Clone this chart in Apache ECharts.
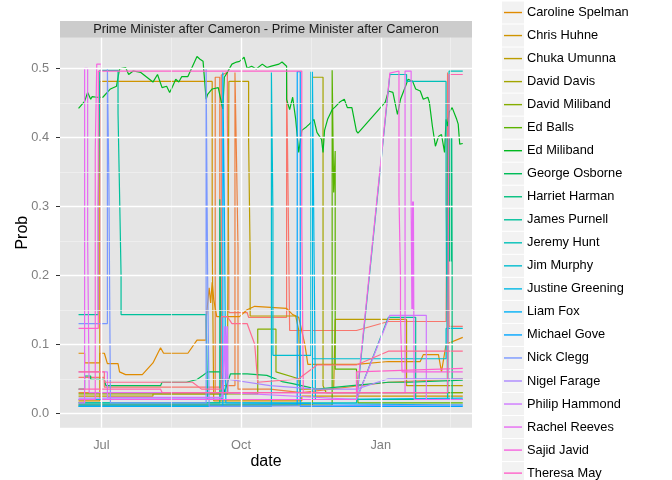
<!DOCTYPE html>
<html>
<head>
<meta charset="utf-8">
<script src="https://cdn.jsdelivr.net/npm/echarts@6/dist/echarts.min.js"></script>
<style>
  html, body { margin: 0; padding: 0; background: #fff; }
  #main { width: 672px; height: 480px; }
</style>
</head>
<body>
<div id="main"></div>
<script>
// 人名 (ggplot 的顺序, 颜色按顺序取)
var names = ['Andy Burnham', 'Boris Johnson', 'Caroline Spelman', 'Chris Huhne', 'Chuka Umunna',
  'David Davis', 'David Miliband', 'Ed Balls', 'Ed Miliband', 'George Osborne', 'Harriet Harman',
  'James Purnell', 'Jeremy Hunt', 'Jim Murphy', 'Justine Greening', 'Liam Fox', 'Michael Gove',
  'Nick Clegg', 'Nigel Farage', 'Philip Hammond', 'Rachel Reeves', 'Sajid Javid', 'Theresa May',
  'Vince Cable', 'Yvette Cooper'];

// 图例里能看到的部分
var legendNames = names.slice(2, 23);

// 刻度
var xTicks = ['2014-07-01', '2014-10-01', '2015-01-01'];
var xMinor = ['2014-08-16', '2014-11-16', '2015-02-15 12:00'];
var yTicks = [0, 0.1, 0.2, 0.3, 0.4, 0.5];
var yMinor = [0.05, 0.15, 0.25, 0.35, 0.45];

var andyBurnham = [['2014-06-16',0.052],['2014-07-03',0.052],['2014-07-03',0.038],['2014-09-18',0.038],['2014-09-18',0.49],['2014-09-22',0.494],['2014-09-22',0.43],['2014-09-23',0.2],['2014-09-23',0.146],['2014-10-05',0.146],['2014-10-06',0.139],['2014-10-31',0.139],['2014-10-31',0.494],['2014-11-01',0.494],['2014-11-01',0.315],['2014-11-02',0.12],['2014-12-16',0.12],['2015-01-06',0.133],['2015-02-13',0.133],['2015-02-14',0.494],['2015-02-15',0.494],['2015-02-15',0.126],['2015-02-24',0.126]];
var borisJohnson = [['2014-06-16',0.03],['2014-09-14',0.03],['2014-09-14',0.487],['2014-09-17',0.487],['2014-09-17',0.25],['2014-09-18',0.04],['2014-09-27',0.04],['2014-09-27',0.494],['2014-09-28',0.494],['2014-09-28',0.37],['2014-09-29',0.24],['2014-09-29',0.035],['2014-10-20',0.035],['2014-11-10',0.03],['2015-01-06',0.045],['2015-02-24',0.05]];
var carolineSpelman = [['2014-06-16',0.087],['2014-06-20',0.087],['2014-06-20',0.073],['2014-06-30',0.073],['2014-06-30',0.087],['2014-07-03',0.087],['2014-07-05',0.072],['2014-07-12',0.072],['2014-07-13',0.06],['2014-07-17',0.056],['2014-07-28',0.056],['2014-08-04',0.073],['2014-08-09',0.095],['2014-08-11',0.087],['2014-08-27',0.087],['2014-09-02',0.106],['2014-09-08',0.106],['2014-09-08',0.136],['2014-09-10',0.182],['2014-09-11',0.16],['2014-09-12',0.19],['2014-09-13',0.165],['2014-09-15',0.14],['2014-09-30',0.14],['2014-10-05',0.15],['2014-10-10',0.155],['2014-10-31',0.152],['2014-11-04',0.143],['2014-11-08',0.139],['2014-11-12',0.10],['2014-11-14',0.071],['2014-12-16',0.071],['2015-01-06',0.075],['2015-01-27',0.075],['2015-01-29',0.085],['2015-02-08',0.085],['2015-02-10',0.06],['2015-02-13',0.10],['2015-02-24',0.11]];
var chrisHuhne = [['2014-06-16',0.018],['2014-06-30',0.018],['2014-06-30',0.481],['2014-09-12',0.481],['2014-09-12',0.25],['2014-09-13',0.018],['2014-11-10',0.018],['2014-11-10',0.025],['2015-02-24',0.025]];
var chukaUmunna = [['2014-06-16',0.025],['2014-08-04',0.025],['2014-08-04',0.028],['2014-09-22',0.028],['2014-09-23',0.481],['2014-10-06',0.481],['2014-10-06',0.394],['2014-10-07',0.228],['2014-10-07',0.141],['2014-11-06',0.141],['2014-11-08',0.12],['2014-11-09',0.035],['2014-12-01',0.035],['2014-12-02',0.136],['2015-01-18',0.136],['2015-01-18',0.04],['2015-02-24',0.04]];
var davidDavis = [['2014-06-16',0.012],['2014-11-17',0.012],['2014-11-17',0.487],['2014-11-24',0.487],['2014-11-24',0.04],['2014-11-26',0.03],['2015-02-24',0.03]];
var davidMiliband = [['2014-06-16',0.028],['2014-10-12',0.028],['2014-10-12',0.122],['2014-10-24',0.122],['2014-10-24',0.06],['2014-11-08',0.05],['2014-11-09',0.03],['2015-02-24',0.03]];
var edBalls = [['2014-06-16',0.012],['2014-11-30',0.012],['2014-11-30',0.497],['2014-12-01',0.497],['2014-12-01',0.32],['2014-12-02',0.38],['2014-12-02',0.064],['2014-12-16',0.064],['2014-12-17',0.015],['2015-02-24',0.015]];
var edMiliband = [['2014-06-16',0.442],['2014-06-20',0.452],['2014-06-22',0.465],['2014-06-24',0.455],['2014-06-25',0.459],['2014-06-28',0.458],['2014-07-02',0.458],['2014-07-07',0.470],['2014-07-11',0.474],['2014-07-13',0.499],['2014-07-17',0.501],['2014-07-19',0.491],['2014-07-22',0.496],['2014-07-27',0.494],['2014-07-31',0.487],['2014-08-04',0.480],['2014-08-07',0.491],['2014-08-10',0.472],['2014-08-13',0.474],['2014-08-15',0.465],['2014-08-17',0.474],['2014-08-19',0.484],['2014-08-21',0.480],['2014-08-23',0.488],['2014-08-27',0.488],['2014-09-02',0.517],['2014-09-04',0.513],['2014-09-06',0.510],['2014-09-08',0.455],['2014-09-09',0.462],['2014-09-12',0.470],['2014-09-16',0.472],['2014-09-18',0.451],['2014-09-19',0.441],['2014-09-20',0.487],['2014-09-22',0.494],['2014-09-25',0.506],['2014-09-28',0.509],['2014-09-30',0.510],['2014-10-03',0.516],['2014-10-05',0.500],['2014-10-08',0.503],['2014-10-11',0.499],['2014-10-15',0.506],['2014-10-18',0.501],['2014-10-21',0.503],['2014-10-26',0.506],['2014-10-28',0.509],['2014-10-31',0.503],['2014-10-31',0.455],['2014-11-02',0.440],['2014-11-04',0.458],['2014-11-06',0.426],['2014-11-08',0.378],['2014-11-10',0.410],['2014-11-13',0.415],['2014-11-15',0.419],['2014-11-18',0.426],['2014-11-20',0.407],['2014-11-23',0.397],['2014-11-24',0.378],['2014-11-25',0.410],['2014-11-27',0.426],['2014-11-30',0.440],['2014-12-02',0.444],['2014-12-05',0.451],['2014-12-08',0.455],['2014-12-10',0.443],['2014-12-13',0.443],['2014-12-16',0.409],['2014-12-17',0.406],['2015-01-04',0.451],['2015-01-06',0.467],['2015-01-09',0.465],['2015-01-12',0.433],['2015-01-14',0.455],['2015-01-17',0.472],['2015-01-19',0.484],['2015-01-22',0.481],['2015-01-24',0.470],['2015-01-27',0.467],['2015-01-29',0.455],['2015-02-01',0.458],['2015-02-02',0.451],['2015-02-04',0.416],['2015-02-06',0.387],['2015-02-08',0.401],['2015-02-10',0.404],['2015-02-12',0.378],['2015-02-13',0.426],['2015-02-14',0.416],['2015-02-15',0.436],['2015-02-17',0.443],['2015-02-20',0.426],['2015-02-21',0.419],['2015-02-22',0.390],['2015-02-24',0.391]];
var georgeOsborne = [['2014-06-16',0.035],['2014-06-20',0.035],['2014-06-20',0.054],['2014-06-24',0.054],['2014-06-24',0.049],['2014-07-03',0.049],['2014-07-04',0.040],['2014-08-09',0.040],['2014-08-10',0.045],['2014-08-26',0.045],['2014-09-02',0.049],['2014-09-06',0.055],['2014-09-09',0.06],['2014-09-18',0.06],['2014-09-20',0.03],['2014-09-24',0.057],['2014-10-05',0.057],['2014-10-18',0.055],['2014-10-28',0.046],['2014-11-04',0.043],['2014-11-20',0.035],['2014-12-13',0.04],['2015-01-06',0.045],['2015-01-20',0.045],['2015-02-24',0.048]];
var harrietHarman = [['2014-06-16',0.015],['2014-09-17',0.015],['2014-09-17',0.31],['2014-09-18',0.31],['2014-09-18',0.02],['2015-02-14',0.02],['2015-02-14 06:00',0.40],['2015-02-14 12:00',0.22],['2015-02-14 18:00',0.40],['2015-02-15',0.22],['2015-02-15 06:00',0.40],['2015-02-15 12:00',0.22],['2015-02-15 18:00',0.40],['2015-02-16',0.22],['2015-02-16 06:00',0.40],['2015-02-16 12:00',0.22],['2015-02-16 18:00',0.40],['2015-02-17',0.22],['2015-02-17',0.02],['2015-02-24',0.02]];
var jamesPurnell = [['2014-06-16',0.143],['2014-06-29',0.143],['2014-06-29',0.30],['2014-06-30',0.497],['2014-07-12',0.497],['2014-07-12',0.435],['2014-07-13',0.32],['2014-07-14',0.2],['2014-07-14',0.143],['2014-09-08',0.143],['2014-09-09',0.02],['2014-12-16',0.02],['2015-01-06',0.139],['2015-01-24',0.139],['2015-01-24',0.02],['2015-02-24',0.02]];
var jeremyHunt = [['2014-06-16',0.015],['2014-12-16',0.015],['2015-01-07',0.491],['2015-01-18',0.491],['2015-01-18',0.481],['2015-02-13',0.481],['2015-02-13',0.306],['2015-02-14',0.02],['2015-02-15',0.02],['2015-02-15',0.496],['2015-02-24',0.496]];
var jimMurphy = [['2014-06-16',0.01],['2014-10-21',0.01],['2014-10-21',0.494],['2014-10-22',0.288],['2014-10-22',0.084],['2014-11-16',0.084],['2014-11-16',0.495],['2014-11-17',0.495],['2014-11-17',0.079],['2015-02-13',0.079],['2015-02-13',0.123],['2015-02-24',0.123]];
var justineGreening = [['2014-06-16',0.02],['2014-11-17',0.02],['2014-11-17',0.495],['2014-11-18',0.495],['2014-11-18',0.252],['2014-11-19',0.02],['2015-02-24',0.022]];
var liamFox = [['2014-06-16',0.01],['2014-09-19',0.01],['2014-09-19',0.494],['2014-09-20',0.494],['2014-09-20',0.3],['2014-09-21',0.015],['2015-02-24',0.012]];
var michaelGove = [['2014-06-16',0.012],['2014-11-07',0.012],['2014-11-07',0.495],['2014-11-09',0.495],['2014-11-09',0.01],['2015-02-24',0.01]];
var nickClegg = [['2014-06-16',0.13],['2014-07-05',0.13],['2014-07-05',0.5],['2014-07-06',0.5],['2014-07-06',0.33],['2014-07-07',0.015],['2014-09-08',0.015],['2014-09-08',0.5],['2014-09-09',0.5],['2014-09-09',0.2],['2014-09-10',0.01],['2015-02-24',0.012]];
var nigelFarage = [['2014-06-16',0.022],['2014-09-18',0.022],['2014-09-20',0.05],['2014-10-20',0.04],['2014-11-20',0.035],['2014-12-16',0.035],['2015-01-06',0.05],['2015-02-24',0.05]];
var philipHammond = [['2014-06-16',0.06],['2014-07-05',0.06],['2014-07-05',0.023],['2014-09-19',0.023],['2014-09-20',0.126],['2014-09-20 12:00',0.05],['2014-09-21',0.126],['2014-09-21 12:00',0.05],['2014-09-22',0.126],['2014-09-22 12:00',0.03],['2014-12-16',0.02],['2015-01-07',0.142],['2015-01-31',0.142],['2015-01-31',0.02],['2015-02-24',0.02]];
var rachelReeves = [['2014-06-16',0.015],['2014-06-20',0.015],['2014-06-20',0.5],['2014-06-22',0.5],['2014-06-22',0.25],['2014-06-23',0.03],['2015-01-17',0.03],['2015-01-17',0.496],['2015-01-21',0.496],['2015-01-21',0.307],['2015-01-21 12:00',0.151],['2015-01-22',0.307],['2015-01-22 06:00',0.151],['2015-01-22 12:00',0.307],['2015-01-22 18:00',0.151],['2015-01-23',0.02],['2015-02-24',0.02]];
var sajidJavid = [['2014-06-16',0.02],['2014-06-27',0.02],['2014-06-27',0.38],['2014-06-28',0.506],['2014-07-01',0.506],['2014-07-01',0.02],['2014-12-16',0.02],['2015-01-07',0.493],['2015-01-13',0.496],['2015-01-13',0.315],['2015-01-14',0.194],['2015-01-14',0.136],['2015-01-15',0.06],['2015-02-24',0.06]];
var theresaMay = [['2014-06-16',0.123],['2014-06-29',0.123],['2014-06-29',0.496],['2014-11-10',0.496],['2014-11-10',0.28],['2014-11-11',0.03],['2014-12-16',0.03],['2014-12-16',0.06],['2015-02-24',0.065]];
var vinceCable = [['2014-06-16',0.035],['2014-08-09',0.035],['2014-08-10',0.03],['2015-02-14',0.03],['2015-02-15',0.491],['2015-02-24',0.491]];
var yvetteCooper = [['2014-06-16',0.06],['2014-07-03',0.06],['2014-07-03',0.045],['2014-08-30',0.045],['2014-09-05',0.035],['2014-09-18',0.035],['2014-09-18',0.14],['2014-09-22',0.14],['2014-09-25',0.13],['2014-10-05',0.13],['2014-10-10',0.1],['2014-10-12',0.045],['2014-11-08',0.05],['2014-11-20',0.07],['2014-12-16',0.07],['2015-01-06',0.09],['2015-02-24',0.09]];

var values = [andyBurnham, borisJohnson, carolineSpelman, chrisHuhne, chukaUmunna, davidDavis,
  davidMiliband, edBalls, edMiliband, georgeOsborne, harrietHarman, jamesPurnell, jeremyHunt,
  jimMurphy, justineGreening, liamFox, michaelGove, nickClegg, nigelFarage, philipHammond,
  rachelReeves, sajidJavid, theresaMay, vinceCable, yvetteCooper];

// ggplot 默认色盘 hcl(h, 100, 65)
function hcl(h, c, l) {
    var hr = h * Math.PI / 180;
    var U = c * Math.cos(hr), V = c * Math.sin(hr);
    var Xn = 95.047, Yn = 100, Zn = 108.883;
    var Y = l > 8 ? Yn * Math.pow((l + 16) / 116, 3) : Yn * l / 903.3;
    var un = 4 * Xn / (Xn + 15 * Yn + 3 * Zn), vn = 9 * Yn / (Xn + 15 * Yn + 3 * Zn);
    var u = U / (13 * l) + un, v = V / (13 * l) + vn;
    var X = 9 * Y * u / (4 * v);
    var Z = 3 * Y / v - X / 3 - 5 * Y;
    X /= 100; Y /= 100; Z /= 100;
    var rgb = [
        3.2404542 * X - 1.5371385 * Y - 0.4985314 * Z,
        -0.9692660 * X + 1.8760108 * Y + 0.0415560 * Z,
        0.0556434 * X - 0.2040259 * Y + 1.0572252 * Z
    ].map(function (x) {
        x = x <= 0.0031308 ? 12.92 * x : 1.055 * Math.pow(x, 1 / 2.4) - 0.055;
        x = Math.round(Math.max(0, Math.min(1, x)) * 255);
        return ('0' + x.toString(16)).slice(-2);
    });
    return '#' + rgb.join('');
}
var colors = names.map(function (n, i) { return hcl(15 + 360 * i / names.length, 100, 65); });

// 日期 -> 时间戳 (x 轴用 value 轴)
var T = function (d) { return +echarts.time.parse(d); };
var font = '"Liberation Sans", Arial, sans-serif';
var monthName = ['Jan','Feb','Mar','Apr','May','Jun','Jul','Aug','Sep','Oct','Nov','Dec'];

// 网格线 (放在最底下的空系列上)
var gridLines = [];
xTicks.forEach(function (d) { gridLines.push({ xAxis: T(d), lineStyle: { color: '#ffffff', width: 1.4 } }); });
xMinor.forEach(function (d) { gridLines.push({ xAxis: T(d), lineStyle: { color: '#f2f2f2', width: 0.7 } }); });
yTicks.forEach(function (v) { gridLines.push({ yAxis: v, lineStyle: { color: '#ffffff', width: 1.4 } }); });
yMinor.forEach(function (v) { gridLines.push({ yAxis: v, lineStyle: { color: '#f2f2f2', width: 0.7 } }); });

var series = [{
    type: 'line',
    data: [],
    silent: true,
    markLine: {
        silent: true,
        symbol: ['none', 'none'],
        label: { show: false },
        lineStyle: { type: 'solid' },
        data: gridLines
    }
}];
names.forEach(function (n, i) {
    series.push({
        name: n,
        type: 'line',
        data: values[i].map(function (p) { return [T(p[0]), p[1]]; }),
        showSymbol: false,
        symbol: 'none',
        color: colors[i],
        lineStyle: { width: 1.2, color: colors[i] },
        emphasis: { disabled: true }
    });
});

// 图例 key 的灰色底, 分面标题条
var rowH = 23.03, legendTop = 1;
var graphics = [{
    type: 'rect', shape: { x: 60, y: 21, width: 412, height: 16.7 },
    style: { fill: '#cccccc' }, z: 0
}, {
    type: 'text', x: 266, y: 29.5,
    style: { text: 'Prime Minister after Cameron - Prime Minister after Cameron', fill: '#1a1a1a',
        font: '12.8px ' + font, textAlign: 'center', textVerticalAlign: 'middle' }
}];
legendNames.forEach(function (n, i) {
    graphics.push({
        type: 'rect', shape: { x: 502, y: legendTop + 0.5 + i * rowH, width: 22, height: 22 },
        style: { fill: '#f2f2f2' }, z: 0
    });
});

var myChart = echarts.init(document.getElementById('main'));

var option = {
    animation: false,
    backgroundColor: '#ffffff',
    graphic: graphics,
    grid: {
        left: 60, right: 200, top: 37.7, bottom: 52.3,
        containLabel: false,
        outerBoundsMode: 'none',
        show: true, backgroundColor: '#e5e5e5', borderWidth: 0
    },
    legend: {
        data: legendNames,
        orient: 'vertical',
        left: 504,
        top: legendTop,
        height: 700,
        itemGap: 0,
        itemWidth: 18,
        itemHeight: 1.4,
        icon: 'rect',
        selectedMode: false,
        textStyle: { fontFamily: font, fontSize: 12.8, color: '#000', lineHeight: rowH },
        padding: 0
    },
    xAxis: {
        type: 'value',
        min: T('2014-06-03 19:00'),
        max: T('2015-03-02 02:00'),
        name: 'date',
        nameLocation: 'middle',
        nameGap: 26,
        nameMoveOverlap: false,
        nameTextStyle: { fontFamily: font, fontSize: 16, color: '#000', verticalAlign: 'top' },
        axisLine: { show: false },
        axisTick: { show: true, length: 4, lineStyle: { color: '#333' }, customValues: xTicks.map(T) },
        axisLabel: {
            customValues: xTicks.map(T),
            margin: 11,
            color: '#7f7f7f',
            fontFamily: font,
            fontSize: 12.8,
            formatter: function (v) { return monthName[new Date(v).getMonth()]; }
        },
        splitLine: { show: false }
    },
    yAxis: {
        type: 'value',
        min: -0.0209,
        max: 0.5443,
        name: 'Prob',
        nameLocation: 'middle',
        nameGap: 29,
        nameMoveOverlap: false,
        nameRotate: 90,
        nameTextStyle: { fontFamily: font, fontSize: 16, color: '#000' },
        axisLine: { show: false },
        axisTick: { show: true, length: 4, lineStyle: { color: '#333' }, customValues: yTicks },
        axisLabel: {
            customValues: yTicks,
            margin: 11,
            color: '#7f7f7f',
            fontFamily: font,
            fontSize: 12.8,
            formatter: function (v) { return v.toFixed(1); }
        },
        splitLine: { show: false }
    },
    series: series
};

myChart.setOption(option);

window.onresize = function () {
    myChart.resize();
};
</script>
</body>
</html>
